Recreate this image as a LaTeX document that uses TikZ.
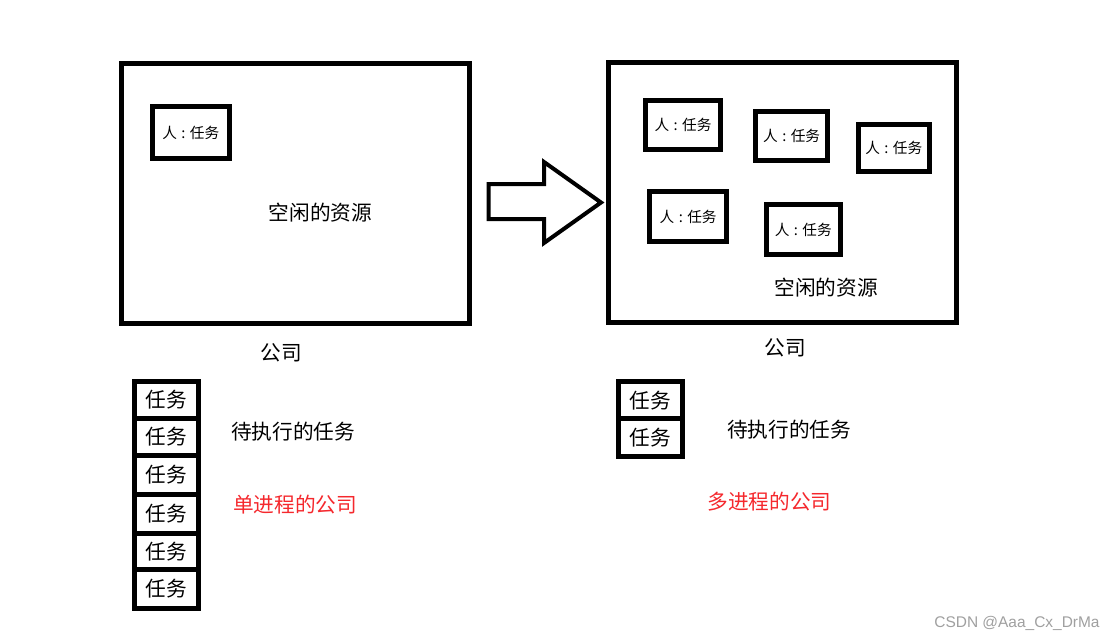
\documentclass[tikz,border=0pt]{standalone}
\usepackage{fontspec}
\newfontfamily\cjk{Noto Sans CJK SC}
\newfontfamily\wmfont{Liberation Sans}
\definecolor{cnred}{RGB}{245,40,45}
\definecolor{wmgray}{RGB}{160,160,160}
\newcommand{\pt}{人\hspace{0.3em}:\hspace{0.3em}任务}
\begin{document}
\begin{tikzpicture}[x=0.75pt,y=-0.75pt,
  bigbox/.style={draw, line width=3.75pt, inner sep=0pt, minimum width=261pt, minimum height=195pt},
  personbox/.style={draw, line width=3.75pt, inner sep=0pt, font=\cjk\fontsize{11}{13}\selectfont},
  taskbox/.style={draw, line width=3.75pt, inner sep=0pt, font=\cjk\fontsize{15.5}{18}\selectfont},
  label/.style={inner sep=0pt, font=\cjk\fontsize{15.5}{18}\selectfont},
  redlabel/.style={label, text=cnred},
  blockarrow/.style={draw, line width=3pt, line join=miter, fill=white}
]
\useasboundingbox[fill=white] (0,0) rectangle (1115,642);

% left company
\node[bigbox] (lco) at (295.5,193.5) {};
\node[personbox, minimum width=57.4pt, minimum height=39pt] (lp1) at (190.75,132.5) {\pt};
\node[label] (lres) at (320.5,213) {空闲的资源};
\node[label] (lname) at (281,353) {公司};

% right company
\node[bigbox] (rco) at (782.5,192.5) {};
\node[personbox, minimum width=55.8pt, minimum height=36.75pt] (rp1) at (683,125.3) {\pt};
\node[personbox, minimum width=53.8pt, minimum height=36.3pt] (rp2) at (791.65,136) {\pt};
\node[personbox, minimum width=53pt, minimum height=35.5pt] (rp3) at (893.85,147.85) {\pt};
\node[personbox, minimum width=57.5pt, minimum height=37.3pt] (rp4) at (688.15,216.65) {\pt};
\node[personbox, minimum width=55.3pt, minimum height=37pt] (rp5) at (803.35,229.5) {\pt};
\node[label] (rres) at (826,288) {空闲的资源};
\node[label] (rname) at (785,348) {公司};

% block arrow
\draw[blockarrow] (488.5,184) -- (544,184) -- (544,162) -- (601,202.5) -- (544,243) -- (544,219) -- (488.5,219) -- cycle;

% left task queue
\node[taskbox, minimum width=47.8pt, minimum height=27.4pt] (lt1) at (166.65,400.05) {任务};
\node[taskbox, minimum width=47.8pt, minimum height=27.9pt] (lt2) at (166.65,436.9) {任务};
\node[taskbox, minimum width=47.8pt, minimum height=28.9pt] (lt3) at (166.65,474.75) {任务};
\node[taskbox, minimum width=47.8pt, minimum height=29.85pt] (lt4) at (166.65,513.9) {任务};
\node[taskbox, minimum width=47.8pt, minimum height=26.9pt] (lt5) at (166.65,551.75) {任务};
\node[taskbox, minimum width=47.8pt, minimum height=28.9pt] (lt6) at (166.65,588.95) {任务};
\node[label] (lwait) at (293,431.5) {待执行的任务};
\node[redlabel] (lsingle) at (295,505) {单进程的公司};

% right task queue
\node[taskbox, minimum width=48pt, minimum height=27.5pt] (rt1) at (650.5,400.15) {任务};
\node[taskbox, minimum width=48pt, minimum height=28.7pt] (rt2) at (650.5,437.65) {任务};
\node[label] (rwait) at (789,430) {待执行的任务};
\node[redlabel] (rmulti) at (769.5,501.5) {多进程的公司};

% watermark
\node[inner sep=0pt, text=wmgray, font=\wmfont\fontsize{11.6}{14}\selectfont] (wm) at (1017,623) {CSDN @Aaa\_Cx\_DrMa};
\end{tikzpicture}
\end{document}
